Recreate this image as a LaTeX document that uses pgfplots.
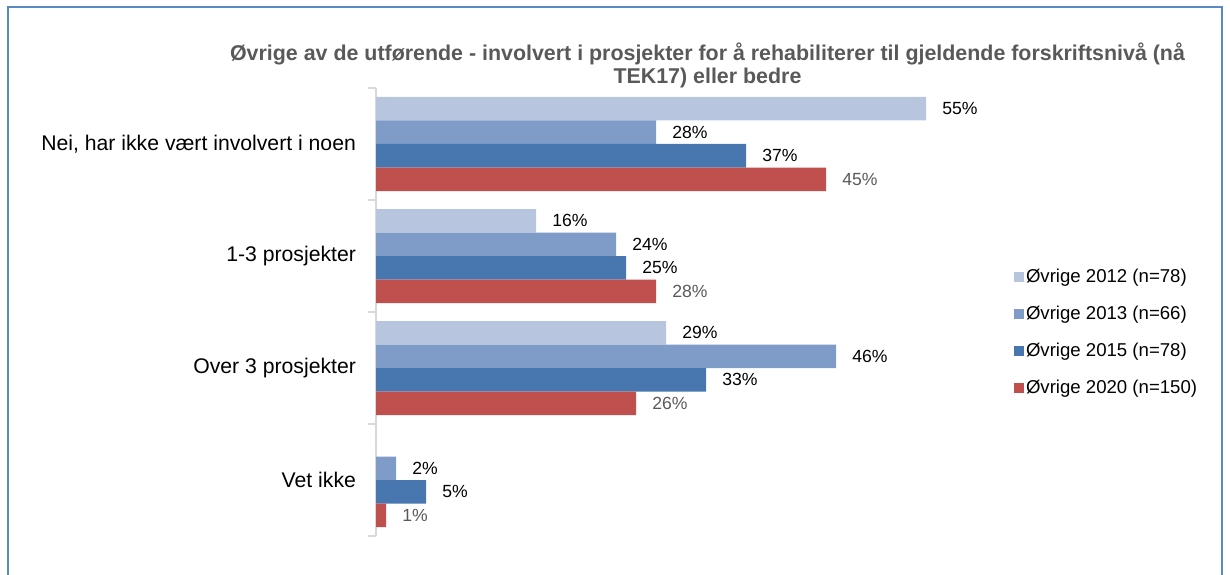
\documentclass[border=0pt]{standalone}
\usepackage{pgfplots}
\pgfplotsset{compat=1.18}
\usepackage{fontspec}
\setmainfont{Liberation Sans}
\definecolor{cA}{HTML}{B8C5DF}
\definecolor{cB}{HTML}{7F9CC9}
\definecolor{cC}{HTML}{4877B0}
\definecolor{cD}{HTML}{C0504D}
\definecolor{axisgray}{HTML}{D9D9D9}
\definecolor{titlegray}{HTML}{595959}
\definecolor{labgray}{HTML}{595959}
\definecolor{frameblue}{HTML}{5A8AC6}
\begin{document}
\begin{tikzpicture}
\useasboundingbox (0,0) rectangle (615pt,287pt);
\draw[frameblue, line width=1.25pt] (4pt,-2pt) -- (4pt,283.5pt) -- (611pt,283.5pt) -- (611pt,-2pt);
\node[font=\bfseries\fontsize{10.7}{11.5}\selectfont, text=titlegray, align=center] at (353.75pt,254.5pt)
  {Øvrige av de utførende - involvert i prosjekter for å rehabiliterer til gjeldende forskriftsnivå (nå\\TEK17) eller bedre};
\begin{axis}[
  at={(188pt,19pt)}, anchor=south west,
  scale only axis, width=400pt, height=224pt,
  xmin=0, xmax=80, ymin=-0.5, ymax=3.5,
  xbar, bar width=11.75pt,
  axis x line=none, axis y line*=left,
  y axis line style={draw=axisgray, line width=1pt, -},
  xtick=\empty,
  ytick={0,1,2,3},
  yticklabels={Vet ikke, Over 3 prosjekter, 1-3 prosjekter, {Nei, har ikke vært involvert i noen}},
  major tick length=0pt,
  yticklabel style={font=\fontsize{10.6}{12}\selectfont, text=black, xshift=-6.5pt},
  extra y ticks={-0.5,0.5,1.5,2.5,3.5}, extra y tick labels={},
  extra y tick style={major tick length=4pt, tick align=outside, tick style={draw=axisgray, line width=1pt}},
  nodes near coords={\pgfmathprintnumber{\pgfplotspointmeta}\%},
  /pgf/number format/assume math mode=true,
  every node near coord/.append style={font=\fontsize{8.8}{10}\selectfont, text=black, anchor=west, inner sep=0pt, xshift=8pt},
  legend style={at={(0.797,0.598)}, anchor=north west, draw=none, fill=none, inner sep=0pt, row sep=9.7pt,
    font=\fontsize{9.3}{11}\selectfont, cells={anchor=west},
    nodes={text height=6.8pt, text depth=2pt, inner ysep=0pt, inner xsep=1pt}},
  legend image code/.code={\fill[#1] (0pt,-2.5pt) rectangle (5pt,2.5pt);},
]
\addplot[fill=cA, draw=none, bar shift=17.625pt] coordinates {(55,3) (16,2) (29,1)};
\addplot[fill=cB, draw=none, bar shift=5.875pt] coordinates {(28,3) (24,2) (46,1) (2,0)};
\addplot[fill=cC, draw=none, bar shift=-5.875pt] coordinates {(37,3) (25,2) (33,1) (5,0)};
\addplot[fill=cD, draw=none, bar shift=-17.625pt, every node near coord/.append style={text=labgray}] coordinates {(45,3) (28,2) (26,1) (1,0)};
\legend{Øvrige 2012 (n=78), Øvrige 2013 (n=66), Øvrige 2015 (n=78), Øvrige 2020 (n=150)}
\end{axis}
\end{tikzpicture}
\end{document}
